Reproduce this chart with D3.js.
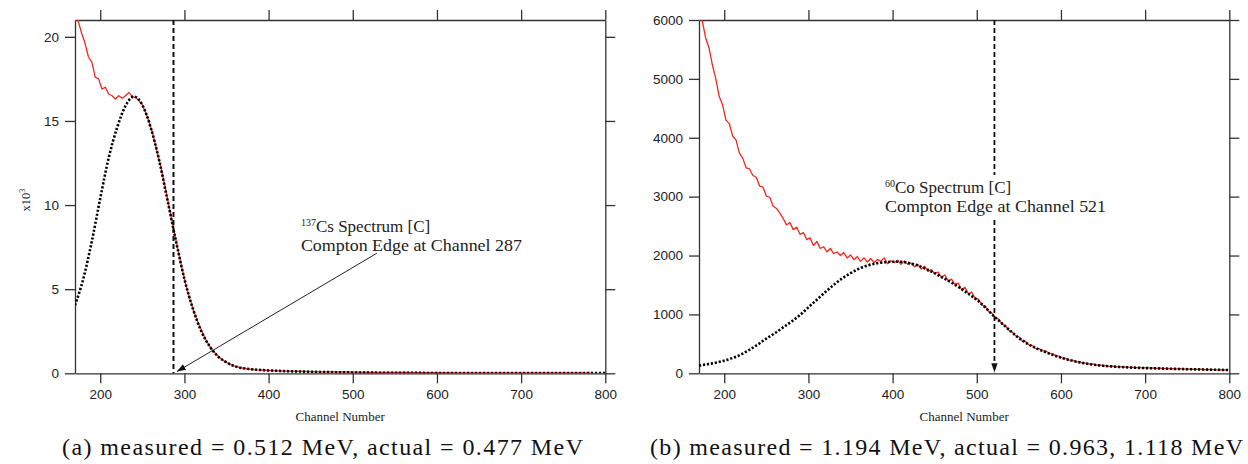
<!DOCTYPE html>
<html>
<head>
<meta charset="utf-8">
<script src="https://cdn.jsdelivr.net/npm/d3@7"></script>
<style>
body { margin: 0; background: #fff; }
svg { font-family: "Liberation Serif", "Times New Roman", serif; }
.frame line, .frame path { stroke: #333; stroke-width: 1.3; }
.tick text { fill: #222; }
</style>
</head>
<body>
<div id="plot"></div>
<script>
// channel axis shared by both panels
var chanDomain = [170, 800];
var chanTicks = [200, 300, 400, 500, 600, 700, 800];

// (a) 137Cs spectrum, counts in thousands, one value every 4 channels from 170
var csRedHead = [21.7, 20.9, 20.2, 19.6, 18.8, 18.5, 17.6, 17.5, 16.9, 17.0,
  16.6, 16.5, 16.3, 16.5, 16.35, 16.5, 16.7, 16.45, 16.4, 16.2,
  15.95, 15.5, 14.95, 14.3, 13.5, 12.7, 11.8, 10.85, 9.85, 8.85,
  7.9, 6.95, 6.05, 5.2, 4.5, 3.85, 3.3, 2.8, 2.35, 1.95,
  1.62, 1.35, 1.12, 0.93, 0.77, 0.64, 0.54, 0.46, 0.39, 0.34,
  0.3, 0.27, 0.24, 0.22, 0.2, 0.19, 0.18, 0.17];
// tail, one value every 20 channels from 402
var csRedTail = [0.16, 0.13, 0.11, 0.09, 0.08, 0.07, 0.06, 0.05, 0.05, 0.04,
  0.04, 0.03, 0.03, 0.03, 0.02, 0.02, 0.02, 0.02, 0.02, 0.02];
var csFitChan = [170, 180, 190, 200, 210, 220, 230, 240, 250, 260, 270, 280, 290,
  300, 310, 320, 330, 340, 350, 360, 370, 380, 390, 400, 420, 450, 500, 550, 600, 700, 800];
var csFitK = [4.05, 5.64, 7.85, 10.4, 12.8, 14.6, 15.9, 16.45, 15.95, 14.6, 12.65, 10.25, 7.85,
  5.6, 3.85, 2.5, 1.6, 1.0, 0.65, 0.42, 0.3, 0.24, 0.2, 0.17, 0.13, 0.09, 0.05, 0.03, 0.02, 0.01, 0.01];
var csYTicks = [0, 5, 10, 15, 20];

// (b) 60Co spectrum, counts, one value every 4 channels from 170
var coRed = [6150, 5980, 5690, 5520, 5230, 5000, 4700, 4560, 4300, 4240,
  4030, 3960, 3740, 3650, 3490, 3470, 3360, 3330, 3180, 3160,
  3010, 2990, 2840, 2800, 2720, 2630, 2520, 2560, 2440, 2480,
  2360, 2390, 2270, 2300, 2170, 2240, 2120, 2150, 2060, 2120,
  2030, 2060, 2000, 2050, 1960, 2010, 1930, 1980, 1900, 1960,
  1890, 1950, 1880, 1930, 1900, 1960, 1860, 1910, 1880, 1920,
  1850, 1910, 1850, 1870, 1810, 1850, 1770, 1820, 1730, 1760,
  1690, 1720, 1630, 1670, 1570, 1600, 1510, 1530, 1420, 1460,
  1350, 1380, 1270, 1260, 1160, 1140, 1050, 1020, 940, 920,
  840, 810, 730, 700, 640, 620, 550, 540, 480, 470,
  420, 420, 380, 380, 340, 330, 295, 290, 260, 250,
  225, 220, 195, 195, 172, 172, 155, 158, 140, 142,
  128, 130, 118, 120, 110, 114, 104, 108, 100, 102,
  95, 98, 91, 95, 88, 90, 84, 87, 80, 84,
  77, 80, 74, 78, 72, 74, 69, 72, 66, 69,
  63, 66, 61, 63, 58, 61, 56, 58];
var coFitChan = d3.range(170, 801, 10);
var coFit = [130, 155, 180, 215, 260, 320, 400, 490, 590, 680,
  780, 880, 990, 1120, 1250, 1380, 1500, 1610, 1700, 1775,
  1830, 1865, 1885, 1895, 1895, 1870, 1830, 1770, 1700, 1620,
  1540, 1450, 1350, 1250, 1120, 975, 845, 720, 600, 505,
  430, 370, 315, 265, 225, 192, 165, 145, 128, 117,
  108, 100, 94, 89, 85, 81, 77, 74, 70, 67,
  64, 61, 58, 55];
var coYTicks = [0, 1000, 2000, 3000, 4000, 5000, 6000];

var W = 1248, H = 464;
var svg = d3.select('#plot').append('svg')
  .attr('width', W).attr('height', H);

var defs = svg.append('defs');
defs.append('marker')
  .attr('id', 'head')
  .attr('viewBox', '0 0 10 10')
  .attr('refX', 10).attr('refY', 5)
  .attr('markerWidth', 9).attr('markerHeight', 9)
  .attr('markerUnits', 'userSpaceOnUse')
  .attr('orient', 'auto')
  .append('path').attr('d', 'M0,1.5 L10,5 L0,8.5 Z').attr('fill', '#111');

function panel(id, left, right, yDom, yTicks) {
  var top = 20, bottom = 373.3;
  var x = d3.scaleLinear().domain(chanDomain).range([left, right]);
  var y = d3.scaleLinear().domain(yDom).range([bottom, top]);
  var g = svg.append('g');

  defs.append('clipPath').attr('id', 'clip' + id)
    .append('rect').attr('x', left).attr('y', top)
    .attr('width', right - left).attr('height', bottom - top);

  var axes = [
    [d3.axisBottom(x).tickValues(chanTicks).tickFormat(d3.format('d')), 'translate(0,' + bottom + ')'],
    [d3.axisTop(x).tickValues(chanTicks).tickFormat(''), 'translate(0,' + top + ')'],
    [d3.axisLeft(y).tickValues(yTicks).tickFormat(d3.format('d')), 'translate(' + left + ',0)'],
    [d3.axisRight(y).tickValues(yTicks).tickFormat(''), 'translate(' + right + ',0)']
  ];
  axes.forEach(function(a) {
    var ax = g.append('g').attr('class', 'frame').attr('transform', a[1])
      .call(a[0].tickSize(10).tickSizeOuter(0).tickPadding(6));
    ax.selectAll('text').style('font-size', '13.5px').style('font-family', null);
  });
  return {x: x, y: y, g: g, clip: 'url(#clip' + id + ')', left: left, right: right, top: top, bottom: bottom};
}

var redColor = '#f0281e';

function spectrumLine(p, xs, ys) {
  var pts = xs.map(function(c, i) { return [c, ys[i]]; });
  p.g.append('path')
    .datum(pts)
    .attr('clip-path', p.clip)
    .attr('fill', 'none')
    .attr('stroke', redColor)
    .attr('stroke-width', 1.3)
    .attr('stroke-linejoin', 'round')
    .attr('d', d3.line().x(function(d){ return p.x(d[0]); }).y(function(d){ return p.y(d[1]); }));
}

function fitLine(p, xs, ys) {
  var pts = xs.map(function(c, i) { return [c, ys[i]]; });
  p.g.append('path')
    .datum(pts)
    .attr('clip-path', p.clip)
    .attr('fill', 'none')
    .attr('stroke', '#000')
    .attr('stroke-width', 2.6)
    .attr('stroke-dasharray', '2.2,1.8')
    .attr('d', d3.line().x(function(d){ return p.x(d[0]); }).y(function(d){ return p.y(d[1]); })
      .curve(d3.curveMonotoneX));
}

function note(p, chan, val, sup, line1, line2) {
  var t1 = p.g.append('text')
    .attr('x', p.x(chan)).attr('y', p.y(val))
    .style('font-size', '17px').attr('fill', '#222');
  t1.append('tspan').text(sup).style('font-size', '10px').attr('dy', -6);
  t1.append('tspan').text(line1).attr('dy', 6);
  p.g.append('text')
    .attr('x', p.x(chan)).attr('y', p.y(val) + 19)
    .style('font-size', '17px').attr('fill', '#222')
    .attr('textLength', 221).attr('lengthAdjust', 'spacingAndGlyphs')
    .text(line2);
}

// ---- panel (a)
var pa = panel('a', 75, 605.3, [0, 21], csYTicks);
var csChan = csRedHead.map(function(v, i){ return 170 + 4 * i; })
  .concat(csRedTail.map(function(v, i){ return 402 + 20 * i; }));
spectrumLine(pa, csChan, csRedHead.concat(csRedTail));
fitLine(pa, csFitChan, csFitK);

pa.g.append('line')
  .attr('x1', pa.x(287)).attr('x2', pa.x(287))
  .attr('y1', pa.top).attr('y2', pa.bottom)
  .attr('stroke', '#111').attr('stroke-width', 2).attr('stroke-dasharray', '5,3');

note(pa, 438.4, 8.39, '137', 'Cs Spectrum [C]', 'Compton Edge at Channel 287');

pa.g.append('line')
  .attr('x1', pa.x(528.7)).attr('y1', pa.y(7.14))
  .attr('x2', pa.x(291)).attr('y2', pa.y(0.1))
  .attr('stroke', '#222').attr('stroke-width', 1)
  .attr('marker-end', 'url(#head)');

var ylab = svg.append('text')
  .attr('transform', 'translate(30,200) rotate(-90)')
  .attr('text-anchor', 'middle')
  .style('font-size', '12.5px').attr('fill', '#222');
ylab.append('tspan').text('x10');
ylab.append('tspan').text('3').style('font-size', '8px').attr('dy', -5);

// ---- panel (b)
var pb = panel('b', 699, 1229.3, [0, 6000], coYTicks);
spectrumLine(pb, coRed.map(function(v, i){ return 170 + 4 * i; }), coRed);
fitLine(pb, coFitChan, coFit);

pb.g.append('line')
  .attr('x1', pb.x(521)).attr('x2', pb.x(521))
  .attr('y1', pb.top).attr('y2', pb.y(3368))
  .attr('stroke', '#111').attr('stroke-width', 1.8).attr('stroke-dasharray', '5,3');
pb.g.append('line')
  .attr('x1', pb.x(521)).attr('x2', pb.x(521))
  .attr('y1', pb.y(2604)).attr('y2', pb.bottom - 1)
  .attr('stroke', '#111').attr('stroke-width', 1.8).attr('stroke-dasharray', '5,3')
  .attr('marker-end', 'url(#head)');

note(pb, 391, 3062, '60', 'Co Spectrum [C]', 'Compton Edge at Channel 521');

// axis titles and captions
[pa, pb].forEach(function(p) {
  svg.append('text')
    .attr('x', (p.left + p.right) / 2).attr('y', 421)
    .attr('text-anchor', 'middle')
    .style('font-size', '13px').attr('fill', '#222')
    .text('Channel Number');
});

svg.append('text')
  .attr('x', 62).attr('y', 455)
  .style('font-size', '24px').attr('fill', '#111')
  .attr('textLength', 521).attr('lengthAdjust', 'spacing')
  .text('(a) measured = 0.512 MeV, actual = 0.477 MeV');

svg.append('text')
  .attr('x', 650).attr('y', 455)
  .style('font-size', '24px').attr('fill', '#111')
  .attr('textLength', 593).attr('lengthAdjust', 'spacing')
  .text('(b) measured = 1.194 MeV, actual = 0.963, 1.118 MeV');
</script>
</body>
</html>
